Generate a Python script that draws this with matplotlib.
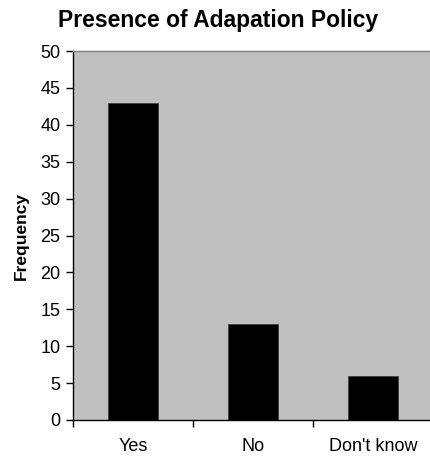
import matplotlib.pyplot as plt

plt.rcParams['font.family'] = ['Liberation Sans', 'DejaVu Sans']

# 数据
categories = ['Yes', 'No', "Don't know"]
frequency = [43, 13, 6]

fig = plt.figure(figsize=(4.30, 4.57), dpi=100)
ax = fig.add_axes([73 / 430, 37 / 457, 360 / 430, 369 / 457])
ax.set_facecolor('#C0C0C0')

x = list(range(len(categories)))
ax.bar(x, frequency, width=0.41, color='black', edgecolor='#404040', linewidth=0.6)

ax.set_xlim(-0.5, len(categories) - 0.5)
ax.set_ylim(0, 50)
ax.set_yticks(range(0, 51, 5))
ax.set_xticks(x)
ax.set_xticklabels(categories)
ax.set_xticks([i - 0.5 for i in range(len(categories) + 1)], minor=True)
ax.tick_params(axis='x', which='major', length=0, pad=13, labelsize=13)
ax.tick_params(axis='x', which='minor', length=5, direction='out', width=1)
ax.tick_params(axis='y', length=5, direction='out', width=1, labelsize=13, pad=4)

for s in ['left', 'bottom']:
    ax.spines[s].set_color('black')
    ax.spines[s].set_linewidth(1)
ax.spines['top'].set_color('#808080')
ax.spines['top'].set_linewidth(1)
ax.spines['right'].set_visible(False)

ax.set_ylabel('Frequency', fontweight='bold', fontsize=12.5, labelpad=8)
fig.text(218 / 430, 1 - 21 / 457, 'Presence of Adapation Policy', ha='center', va='center',
         fontweight='bold', fontsize=16.5)

plt.savefig('out.png', dpi=100)
